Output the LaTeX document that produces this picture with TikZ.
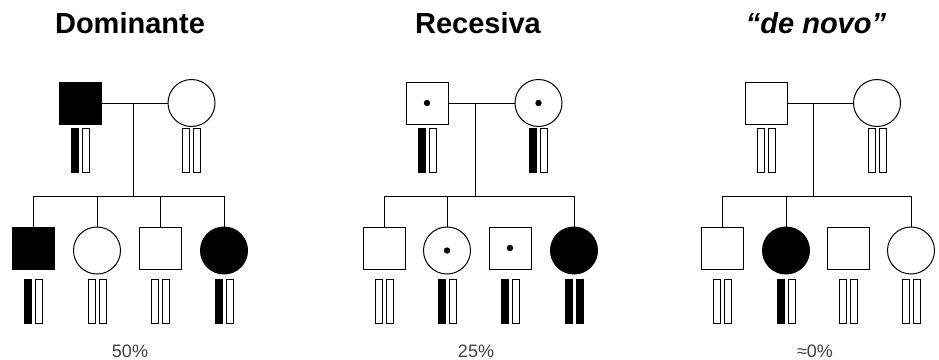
\documentclass[tikz,border=0pt]{standalone}
\usepackage{fontspec}
\setmainfont{Liberation Sans}

\tikzset{
    male/.style={draw, line width=1pt, rectangle, minimum size=42pt, inner sep=0pt},
    female/.style={draw, line width=1pt, circle, minimum size=47pt, inner sep=0pt},
    affected/.style={fill=black},
    carrier/.style={path picture={\fill (path picture bounding box.center) circle (3.2pt);}},
    bar/.style={draw, line width=0.9pt, rectangle, minimum width=7pt, minimum height=44pt, inner sep=0pt},
    barfull/.style={bar, fill=black},
    link/.style={line width=0.9pt},
    title/.style={font=\fontsize{29}{32}\selectfont\bfseries},
    ratio/.style={font=\fontsize{18}{20}\selectfont, text=black!75},
}

% pair of chromosomes under a person: node, y, left bar, right bar
\newcommand{\chromos}[4]{%
    \coordinate (#1-c) at (#1 |- 0,#2);
    \node[#3] (#1-l) at ([xshift=-5.5pt]#1-c) {};
    \node[#4] (#1-r) at ([xshift=5.5pt]#1-c) {};
}

\begin{document}
\begin{tikzpicture}[x=1pt, y=-1pt]
    \useasboundingbox (0,0) rectangle (939,359);

    % dominant
    \node[title, anchor=base] (t1) at (130,33) {Dominante};
    \node[male, affected] (f1) at (80.5,103) {};
    \node[female] (m1) at (191.5,103) {};
    \coordinate (c1) at (133,103);
    \coordinate (s1) at (133,196.5);
    \node[male, affected] (k1a) at (33,248) {};
    \node[female] (k1b) at (97,250.5) {};
    \node[male] (k1c) at (160,248) {};
    \node[female, affected] (k1d) at (224,250.5) {};

    \draw[link] (f1) -- (m1);
    \draw[link] (c1) -- (s1);
    \draw[link] (k1a.north) -- (k1a.north |- s1) -- (k1d.north |- s1) -- (k1d.north);
    \draw[link] (k1b.north) -- (k1b.north |- s1);
    \draw[link] (k1c.north) -- (k1c.north |- s1);

    \chromos{f1}{150}{barfull}{bar}
    \chromos{m1}{150}{bar}{bar}
    \chromos{k1a}{301}{barfull}{bar}
    \chromos{k1b}{301}{bar}{bar}
    \chromos{k1c}{301}{bar}{bar}
    \chromos{k1d}{301}{barfull}{bar}
    \node[ratio, anchor=base] (p1) at (130,357) {50\%};

    % recessive
    \node[title, anchor=base] (t2) at (478,33) {Recesiva};
    \node[male, carrier] (f2) at (427,103) {};
    \node[female, carrier] (m2) at (538.5,103) {};
    \coordinate (c2) at (475,103);
    \coordinate (s2) at (475,196.5);
    \node[male] (k2a) at (384,248) {};
    \node[female, carrier] (k2b) at (447,250.5) {};
    \node[male, carrier] (k2c) at (510,248) {};
    \node[female, affected] (k2d) at (574,250.5) {};

    \draw[link] (f2) -- (m2);
    \draw[link] (c2) -- (s2);
    \draw[link] (k2a.north) -- (k2a.north |- s2) -- (k2d.north |- s2) -- (k2d.north);
    \draw[link] (k2b.north) -- (k2b.north |- s2);

    \chromos{f2}{150}{barfull}{bar}
    \chromos{m2}{150}{barfull}{bar}
    \chromos{k2a}{301}{bar}{bar}
    \chromos{k2b}{301}{barfull}{bar}
    \chromos{k2c}{301}{barfull}{bar}
    \chromos{k2d}{301}{barfull}{barfull}
    \node[ratio, anchor=base] (p2) at (476,357) {25\%};

    % de novo
    \node[title, anchor=base] (t3) at (816,33) {\itshape “de novo”};
    \node[male] (f3) at (766,103) {};
    \node[female] (m3) at (877,103) {};
    \coordinate (c3) at (813,103);
    \coordinate (s3) at (813,196.5);
    \node[male] (k3a) at (722,248) {};
    \node[female, affected] (k3b) at (786,250.5) {};
    \node[male] (k3c) at (848,248) {};
    \node[female] (k3d) at (911,250.5) {};

    \draw[link] (f3) -- (m3);
    \draw[link] (c3) -- (s3);
    \draw[link] (k3a.north) -- (k3a.north |- s3) -- (k3d.north |- s3) -- (k3d.north);
    \draw[link] (k3b.north) -- (k3b.north |- s3);

    \chromos{f3}{150}{bar}{bar}
    \chromos{m3}{150}{bar}{bar}
    \chromos{k3a}{301}{bar}{bar}
    \chromos{k3b}{301}{barfull}{bar}
    \chromos{k3c}{301}{bar}{bar}
    \chromos{k3d}{301}{bar}{bar}
    \node[ratio, anchor=base] (p3) at (815,357) {≈0\%};
\end{tikzpicture}
\end{document}
